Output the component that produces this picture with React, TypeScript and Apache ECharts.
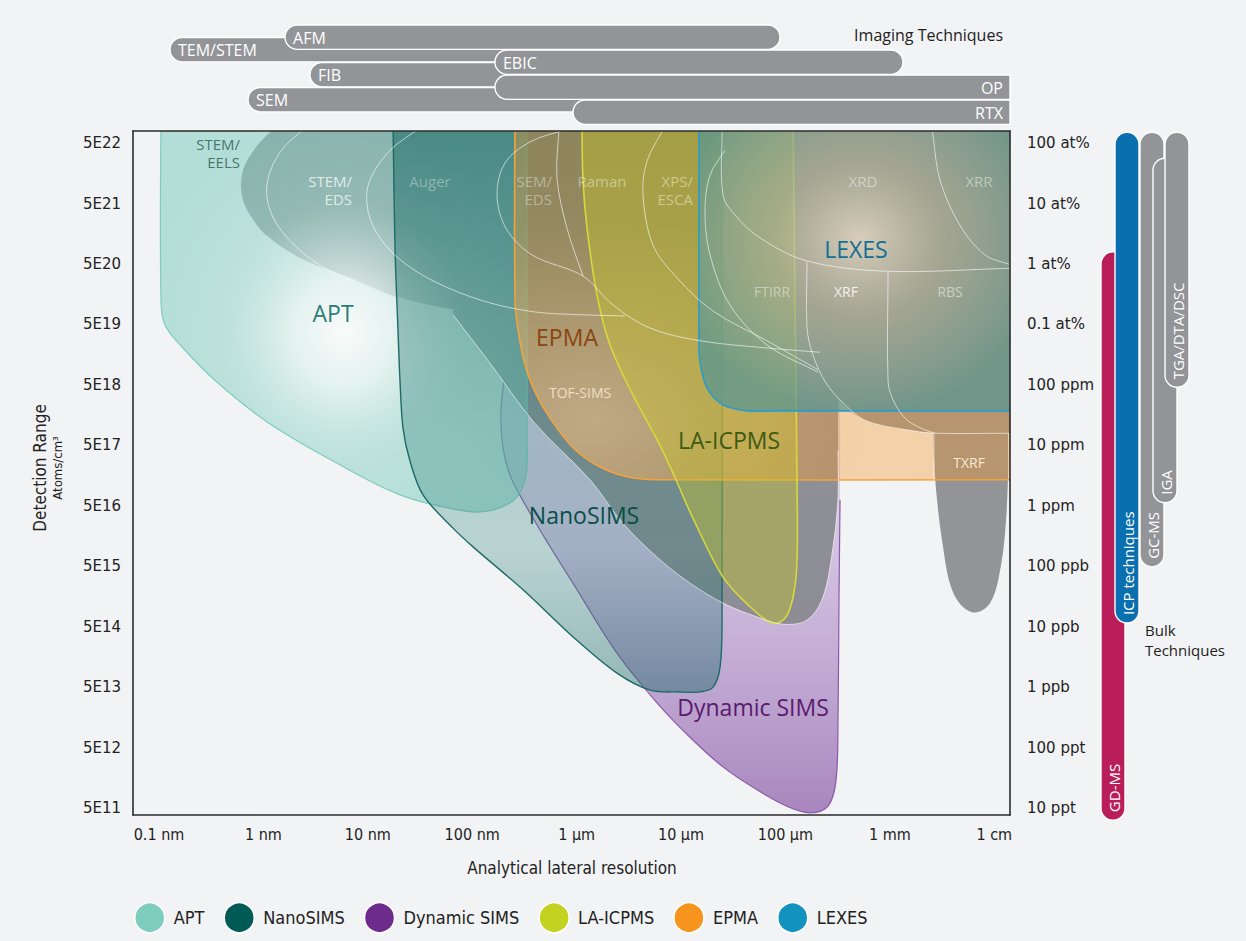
import React, { useEffect, useRef } from 'react';
import * as echarts from 'echarts';

// Axis units: x counts decades above 0.1 nm, y counts decades above 5E11 atoms/cm³.
const xTickValues = [0, 1, 2, 3, 4, 5, 6, 7, 8];
const xTickLabels = ['0.1 nm', '1 nm', '10 nm', '100 nm', '1 µm', '10 µm', '100 µm', '1 mm', '1 cm'];
const yTickValues = [0, 1, 2, 3, 4, 5, 6, 7, 8, 9, 10, 11];
const concentrationLabels = ['5E11', '5E12', '5E13', '5E14', '5E15', '5E16', '5E17', '5E18', '5E19', '5E20', '5E21', '5E22'];
const fractionLabels = ['10 ppt', '100 ppt', '1 ppb', '10 ppb', '100 ppb', '1 ppm', '10 ppm', '100 ppm', '0.1 at%', '1 at%', '10 at%', '100 at%'];

const X_MIN = -0.249;
const X_MAX = 8.151;
const Y_MIN = -0.116;
const Y_MAX = 11.2;

// Region outlines as [resolution, concentration] points; a third value of 1 marks a sharp corner.
const aptOutline = [
  [0.019, 11.38, 1], [0.019, 8.4], [0.057, 7.99], [0.23, 7.61], [0.546, 7.06], [1.025, 6.4], [1.667, 5.74],
  [2.308, 5.18], [2.941, 4.91], [3.199, 4.93], [3.42, 5.13], [3.515, 5.51], [3.525, 6.09], [3.525, 11.38, 1],
];
const nanoSimsOutline = [
  [2.241, 11.38, 1], [2.261, 9.23], [2.289, 7.91], [2.308, 7.08], [2.337, 6.29], [2.404, 5.74], [2.529, 5.18],
  [2.816, 4.63], [3.008, 4.32], [3.487, 3.61], [3.966, 2.83], [4.387, 2.23], [4.703, 1.95], [4.99, 1.92],
  [5.182, 1.92], [5.307, 2.0], [5.374, 2.33], [5.393, 3.11], [5.393, 11.38, 1],
];
const dynamicSimsOutline = [
  [6.523, 7.74, 1], [3.649, 7.74], [3.381, 7.49], [3.305, 7.11], [3.276, 6.58], [3.285, 6.09], [3.324, 5.72],
  [3.391, 5.39], [3.649, 4.6], [4.004, 3.61], [4.387, 2.56], [4.77, 1.74], [5.086, 1.17], [5.402, 0.68],
  [5.728, 0.3], [6.025, 0.02], [6.236, -0.08], [6.408, 0.03], [6.485, 0.46], [6.504, 1.57], [6.513, 3.44], [6.523, 5.1],
];
// Only the visible part of the Dynamic SIMS border is stroked.
const dynamicSimsEdge = dynamicSimsOutline.slice(3).map((p) => [p[0], p[1]]);
const epmaOutline = [
  [3.41, 11.38, 1], [3.41, 8.4], [3.439, 7.91], [3.506, 7.33], [3.602, 6.88], [3.745, 6.45], [3.966, 5.96],
  [4.224, 5.64], [4.54, 5.46], [4.99, 5.43], [8.199, 5.43, 1], [8.199, 11.38, 1],
];
const laIcpmsOutline = [
  [4.052, 11.38, 1], [4.061, 10.39], [4.1, 9.59], [4.195, 8.49], [4.32, 7.66], [4.54, 6.83], [4.799, 6.0],
  [4.952, 5.43], [5.086, 4.9], [5.402, 3.82], [5.661, 3.33], [5.872, 3.06], [5.996, 3.14], [6.073, 3.49],
  [6.111, 4.1], [6.111, 5.43], [6.092, 8.4], [6.073, 11.38, 1],
];
const lexesOutline = [
  [5.172, 11.38, 1], [5.172, 7.74], [5.182, 7.38], [5.249, 6.95], [5.402, 6.67], [5.632, 6.57], [5.9, 6.57],
  [8.199, 6.57, 1], [8.199, 11.38, 1],
];

// Other (grey) techniques: electron / optical cluster, TOF-SIMS, XRF/RBS block and TXRF.
const electronOutline = [
  [1.207, 11.38, 1], [0.987, 11.05], [0.824, 10.64], [0.785, 10.31], [0.814, 10.01], [0.891, 9.76], [1.025, 9.48],
  [1.351, 9.1], [1.83, 8.77], [2.308, 8.44], [2.941, 8.22], [3.582, 8.16], [4.224, 8.14], [4.99, 8.14, 1], [4.99, 11.38, 1],
];
const tofSimsOutline = [
  [2.816, 11.38, 1], [2.816, 8.16, 1], [3.17, 7.36], [3.582, 6.4], [4.128, 5.43], [4.444, 4.71], [4.77, 4.15],
  [5.086, 3.72], [5.402, 3.39], [5.728, 3.16], [5.977, 3.04], [6.207, 3.11], [6.36, 3.49], [6.456, 4.32],
  [6.504, 5.14], [6.504, 5.92], [6.504, 11.38, 1],
];
const xrfRbsOutline = [
  [6.331, 11.38, 1], [6.331, 7.28], [6.523, 6.73], [6.782, 6.4], [7.222, 6.24], [7.414, 6.2, 1], [8.199, 6.2, 1], [8.199, 11.38, 1],
];
const txrfOutline = [
  [7.414, 6.2, 1], [7.423, 5.76], [7.443, 5.26], [7.5, 4.43], [7.605, 3.57], [7.787, 3.24], [7.96, 3.39],
  [8.065, 4.02], [8.113, 4.76], [8.132, 5.51], [8.132, 6.2, 1],
];

// Boundaries between the grey sub-techniques.
const stemEdsEdge = [[1.398, 11.25], [1.159, 10.85], [1.034, 10.31], [1.082, 9.81], [1.274, 9.35], [1.542, 8.98], [1.849, 8.72]];
const augerEdge = [[2.5, 11.25], [2.213, 10.88], [2.021, 10.39], [1.992, 9.98], [2.079, 9.53], [2.289, 9.1], [2.625, 8.72], [3.103, 8.39], [3.582, 8.21], [4.033, 8.16], [4.464, 8.14]];
const semEdsEdge = [[3.889, 11.22], [3.554, 11.02], [3.314, 10.67], [3.238, 10.14], [3.324, 9.59], [3.573, 9.15], [4.061, 8.8], [4.349, 8.32], [4.703, 7.94], [5.182, 7.73], [5.824, 7.61], [6.331, 7.54]];
const ramanEdge = [[3.831, 11.25], [3.812, 10.42], [3.908, 9.59], [4.061, 8.8]];
const xpsEdge = [[4.837, 11.25], [4.674, 10.7], [4.636, 10.14], [4.732, 9.31], [4.962, 8.77], [5.307, 8.22], [5.824, 7.73], [6.312, 7.25]];
const ftirrEdge = [[5.421, 10.88], [5.278, 10.47], [5.23, 9.88], [5.278, 9.15], [5.469, 8.32], [5.824, 7.66], [6.312, 7.21]];
const xrdEdge = [[5.393, 11.25], [5.402, 10.14], [5.517, 9.81], [5.757, 9.43], [6.207, 9.05], [6.973, 8.88], [8.17, 8.93]];
const xrrEdge = [[7.404, 11.25], [7.481, 10.39], [7.672, 9.64], [7.912, 9.15], [8.17, 8.98]];
const xrfEdge = [[6.207, 9.03], [6.207, 7.94], [6.264, 7.49], [6.389, 7.03], [6.571, 6.67], [6.782, 6.4], [7.222, 6.24], [7.433, 6.2], [8.17, 6.2]];
const rbsEdge = [[6.983, 8.87], [6.983, 7.06], [7.031, 6.75], [7.146, 6.45], [7.289, 6.29], [7.433, 6.2]];
const txrfEdge = [[7.423, 6.2], [7.423, 5.43]];
const tofSimsEdge = tofSimsOutline.slice(1, 16).map((p) => [p[0], p[1]]);
const dividerLines = [stemEdsEdge, augerEdge, semEdsEdge, ramanEdge, xpsEdge, ftirrEdge, xrdEdge, xrrEdge, xrfEdge, rbsEdge, txrfEdge, tofSimsEdge];

// Imaging techniques: lateral-resolution ranges (same x units), stacked rows.
const imagingNames = ['TEM/STEM', 'AFM', 'FIB', 'SEM', 'EBIC', 'OP', 'RTX'];
const imagingFrom = [0.105, 1.207, 1.446, 0.853, 3.218, 3.218, 3.966];
const imagingTo = [5.0, 5.948, 4.5, 6.0, 7.126, X_MAX, X_MAX];
const imagingRow = [1, 0, 3, 5, 2, 4, 6];

// Bulk techniques: concentration ranges (same y units).
const bulkNames = ['GD-MS', 'ICP techniques', 'GC-MS', 'IGA', 'TGA/DTA/DSC'];
const bulkTop = [9.2, 11.18, 11.18, 10.75, 11.18];
const bulkBottom = [-0.2, 3.06, 3.99, 5.05, 6.96];
const bulkColors = ['#b91e5a', '#0a6fae', '#939498', '#939498', '#939498'];
const bulkLanes = [1, 15, 40, 53, 65];

const legendNames = ['APT', 'NanoSIMS', 'Dynamic SIMS', 'LA-ICPMS', 'EPMA', 'LEXES'];
const legendColors = ['#7fcdbf', '#005a55', '#6d2b8b', '#c3d120', '#f7941d', '#1293c0'];

const FONT_GEO = '"Open Sans", Lato, sans-serif';
const FONT_COND = '"DejaVu Sans Condensed", "Liberation Sans Narrow", "DejaVu Sans", sans-serif';
const FONT_TICK = '"DejaVu Sans", Verdana, sans-serif';

const regionLabels = [
  { text: 'STEM/\nEELS', x: 0.776, y: 10.84, align: 'right', color: '#4a746f', size: 15 },
  { text: 'STEM/\nEDS', x: 1.849, y: 10.22, align: 'right', color: 'rgba(240,246,244,0.85)', size: 15 },
  { text: 'Auger', x: 2.596, y: 10.37, align: 'center', color: 'rgba(255,255,255,0.35)', size: 15 },
  { text: 'SEM/\nEDS', x: 3.764, y: 10.22, align: 'right', color: 'rgba(255,255,255,0.38)', size: 15 },
  { text: 'Raman', x: 4.243, y: 10.37, align: 'center', color: 'rgba(255,255,255,0.42)', size: 15 },
  { text: 'XPS/\nESCA', x: 5.115, y: 10.22, align: 'right', color: 'rgba(255,255,225,0.45)', size: 15 },
  { text: 'XRD', x: 6.743, y: 10.37, align: 'center', color: 'rgba(255,255,255,0.45)', size: 15 },
  { text: 'XRR', x: 7.854, y: 10.37, align: 'center', color: 'rgba(255,255,255,0.45)', size: 15 },
  { text: 'FTIRR', x: 5.872, y: 8.54, align: 'center', color: 'rgba(255,255,255,0.45)', size: 14 },
  { text: 'XRF', x: 6.58, y: 8.54, align: 'center', color: 'rgba(255,255,255,0.85)', size: 14 },
  { text: 'RBS', x: 7.577, y: 8.54, align: 'center', color: 'rgba(255,255,255,0.5)', size: 14 },
  { text: 'TOF-SIMS', x: 4.033, y: 6.88, align: 'center', color: 'rgba(255,238,215,0.8)', size: 14 },
  { text: 'TXRF', x: 7.759, y: 5.72, align: 'center', color: 'rgba(255,240,215,0.95)', size: 14 },
  { text: 'APT', x: 1.667, y: 8.19, align: 'center', color: '#2b7d75', size: 23 },
  { text: 'EPMA', x: 3.908, y: 7.79, align: 'center', color: '#8a4510', size: 23 },
  { text: 'LA-ICPMS', x: 5.46, y: 6.09, align: 'center', color: '#3d5a12', size: 23 },
  { text: 'NanoSIMS', x: 4.071, y: 4.85, align: 'center', color: '#0a4e49', size: 23 },
  { text: 'Dynamic SIMS', x: 5.69, y: 1.67, align: 'center', color: '#5a1a6e', size: 23 },
  { text: 'LEXES', x: 6.676, y: 9.25, align: 'center', color: '#146e96', size: 23 },
];

// Smooth outline through the points; corner points keep a sharp vertex.
function smoothPath(pts: number[][], closed: boolean): string {
  const n = pts.length;
  const at = (i: number) => (closed ? pts[((i % n) + n) % n] : pts[Math.min(n - 1, Math.max(0, i))]);
  const dir = (a: number[], b: number[]) => {
    const dx = b[0] - a[0];
    const dy = b[1] - a[1];
    const l = Math.hypot(dx, dy) || 1;
    return [dx / l, dy / l];
  };
  const f = (v: number) => v.toFixed(2);
  let d = `M${f(pts[0][0])} ${f(pts[0][1])}`;
  const segs = closed ? n : n - 1;
  for (let i = 0; i < segs; i++) {
    const p0 = at(i - 1);
    const p1 = at(i);
    const p2 = at(i + 1);
    const p3 = at(i + 2);
    const len = Math.hypot(p2[0] - p1[0], p2[1] - p1[1]) / 3;
    const t1 = dir(p0, p2);
    const t2 = dir(p1, p3);
    const c1 = p1[2] ? [p1[0], p1[1]] : [p1[0] + t1[0] * len, p1[1] + t1[1] * len];
    const c2 = p2[2] ? [p2[0], p2[1]] : [p2[0] - t2[0] * len, p2[1] - t2[1] * len];
    d += ` C${f(c1[0])} ${f(c1[1])} ${f(c2[0])} ${f(c2[1])} ${f(p2[0])} ${f(p2[1])}`;
  }
  return closed ? d + ' Z' : d;
}

function toPixels(api: any, pts: number[][]) {
  return pts.map((p) => {
    const c = api.coord([p[0], p[1]]);
    return [c[0], c[1], p[2] || 0];
  });
}

function regionSeries(name: string, outlines: number[][][], fill: any, stroke: string, lineWidth: number, z: number, color: string) {
  return {
    type: 'custom',
    name,
    coordinateSystem: 'cartesian2d',
    xAxisIndex: 0,
    yAxisIndex: 0,
    clip: true,
    silent: true,
    z,
    itemStyle: { color },
    data: [[0, 0]],
    renderItem: (_params: any, api: any) => ({
      type: 'path',
      shape: { pathData: outlines.map((o) => smoothPath(toPixels(api, o), true)).join(' ') },
      style: { fill, stroke, lineWidth },
    }),
  };
}

function edgeSeries(name: string, lines: number[][][], stroke: string, lineWidth: number, z: number) {
  return {
    type: 'custom',
    name,
    coordinateSystem: 'cartesian2d',
    xAxisIndex: 0,
    yAxisIndex: 0,
    clip: true,
    silent: true,
    z,
    data: lines.map((_l, i) => [i, 0]),
    renderItem: (params: any, api: any) => ({
      type: 'path',
      shape: { pathData: smoothPath(toPixels(api, lines[params.dataIndex]), false) },
      style: { fill: 'none', stroke, lineWidth },
    }),
  };
}

function buildOption() {
  const frameLine = { show: true, onZero: false, lineStyle: { color: '#2b2b2b', width: 1.6 } };

  const series: any[] = [
    regionSeries('Dynamic SIMS', [dynamicSimsOutline], {
      type: 'linear', x: 0, y: 0, x2: 0, y2: 1,
      colorStops: [
        { offset: 0, color: 'rgba(195,180,220,0.35)' },
        { offset: 0.4, color: 'rgba(170,130,200,0.4)' },
        { offset: 1, color: 'rgba(115,55,150,0.58)' },
      ],
    }, 'none', 0, 2, '#6d2b8b'),
    edgeSeries('Dynamic SIMS border', [dynamicSimsEdge], '#8c5aa8', 1.2, 2.5),
    regionSeries('Other techniques', [electronOutline, tofSimsOutline, xrfRbsOutline, txrfOutline],
      'rgba(132,134,139,0.88)', 'none', 0, 3, '#939498'),
    regionSeries('APT', [aptOutline], {
      type: 'radial', x: 0.5, y: 0.54, r: 0.55,
      colorStops: [
        { offset: 0, color: 'rgba(250,252,251,0.95)' },
        { offset: 0.25, color: 'rgba(225,242,238,0.8)' },
        { offset: 0.6, color: 'rgba(150,212,200,0.58)' },
        { offset: 1, color: 'rgba(127,205,191,0.55)' },
      ],
    }, '#7fcdbf', 1.2, 4, '#7fcdbf'),
    regionSeries('NanoSIMS', [nanoSimsOutline], {
      type: 'linear', x: 0, y: 0, x2: 0, y2: 1,
      colorStops: [
        { offset: 0, color: 'rgba(10,95,90,0.5)' },
        { offset: 0.55, color: 'rgba(40,125,120,0.32)' },
        { offset: 0.75, color: 'rgba(40,125,120,0.28)' },
        { offset: 1, color: 'rgba(15,100,95,0.42)' },
      ],
    }, '#1d6b67', 1.4, 5, '#005a55'),
    regionSeries('EPMA', [epmaOutline], {
      type: 'radial', x: 0.15, y: 0.83, r: 0.55,
      colorStops: [
        { offset: 0, color: 'rgba(242,190,130,0.62)' },
        { offset: 1, color: 'rgba(245,150,40,0.37)' },
      ],
    }, '#f4a23a', 1.6, 6, '#f7941d'),
    regionSeries('LA-ICPMS', [laIcpmsOutline], 'rgba(200,198,38,0.4)', '#d5d93a', 1.6, 7, '#c3d120'),
    regionSeries('LEXES', [lexesOutline], {
      type: 'radial', x: 0.51, y: 0.41, r: 0.6,
      colorStops: [
        { offset: 0, color: 'rgba(225,220,205,0.8)' },
        { offset: 0.45, color: 'rgba(150,175,168,0.6)' },
        { offset: 1, color: 'rgba(85,150,148,0.72)' },
      ],
    }, '#2a9ccc', 1.6, 8, '#1293c0'),
    edgeSeries('dividers', dividerLines, 'rgba(255,255,255,0.6)', 1, 9),
    {
      type: 'custom',
      name: 'region labels',
      coordinateSystem: 'cartesian2d',
      xAxisIndex: 0,
      yAxisIndex: 0,
      silent: true,
      z: 10,
      data: regionLabels.map((l) => [l.x, l.y]),
      renderItem: (params: any, api: any) => {
        const l = regionLabels[params.dataIndex];
        const c = api.coord([l.x, l.y]);
        return {
          type: 'text',
          x: c[0],
          y: c[1],
          style: {
            text: l.text,
            fill: l.color,
            font: `500 ${l.size}px ${FONT_GEO}`,
            align: l.align,
            verticalAlign: 'middle',
            lineHeight: 18,
          },
        };
      },
    },
    {
      type: 'custom',
      name: 'imaging',
      coordinateSystem: 'cartesian2d',
      xAxisIndex: 2,
      yAxisIndex: 2,
      silent: true,
      z: 5,
      data: imagingNames.map((_n, i) => [imagingFrom[i], imagingRow[i]]),
      renderItem: (params: any, api: any) => {
        const i = params.dataIndex;
        const p0 = api.coord([imagingFrom[i], imagingRow[i]]);
        const p1 = api.coord([imagingTo[i], imagingRow[i] + 1.95]);
        const h = p1[1] - p0[1];
        const r = h / 2;
        const square = imagingTo[i] >= X_MAX - 1e-6;
        return {
          type: 'group',
          children: [
            {
              type: 'rect',
              shape: { x: p0[0], y: p0[1], width: p1[0] - p0[0], height: h, r: square ? [r, 0, 0, r] : r },
              style: { fill: '#939498', stroke: '#ffffff', lineWidth: 1.4 },
            },
            {
              type: 'text',
              x: square ? p1[0] - 7 : p0[0] + 8,
              y: p0[1] + h / 2 + 0.5,
              style: {
                text: imagingNames[i],
                fill: '#ffffff',
                font: `500 16px ${FONT_GEO}`,
                align: square ? 'right' : 'left',
                verticalAlign: 'middle',
              },
            },
          ],
        };
      },
    },
    {
      type: 'custom',
      name: 'bulk',
      coordinateSystem: 'cartesian2d',
      xAxisIndex: 3,
      yAxisIndex: 3,
      silent: true,
      z: 5,
      data: bulkNames.map((_n, i) => [bulkLanes[i], bulkTop[i]]),
      renderItem: (params: any, api: any) => {
        const i = params.dataIndex;
        const top = api.coord([bulkLanes[i], bulkTop[i]]);
        const bot = api.coord([bulkLanes[i] + 24, bulkBottom[i]]);
        const w = bot[0] - top[0];
        return {
          type: 'group',
          children: [
            {
              type: 'rect',
              shape: { x: top[0], y: top[1], width: w, height: bot[1] - top[1], r: w / 2 },
              style: { fill: bulkColors[i], stroke: '#ffffff', lineWidth: 1.4 },
            },
            {
              type: 'text',
              x: top[0] + w / 2 + 0.5,
              y: bot[1] - 8,
              rotation: Math.PI / 2,
              style: {
                text: bulkNames[i],
                fill: '#ffffff',
                font: `500 15px ${FONT_GEO}`,
                align: 'left',
                verticalAlign: 'middle',
              },
            },
          ],
        };
      },
    },
  ];

  return {
    animation: false,
    backgroundColor: '#f2f3f5',
    grid: [
      { left: 133, top: 131, width: 877, height: 684 },
      { left: 133, top: 25, width: 877, height: 100 },
      { left: 1100, top: 131, width: 90, height: 699 },
    ],
    xAxis: [
      {
        gridIndex: 0, type: 'value', min: X_MIN, max: X_MAX, position: 'bottom', z: 12,
        axisLine: frameLine, axisTick: { show: false }, splitLine: { show: false },
        axisLabel: {
          customValues: xTickValues,
          formatter: (v: number) => xTickLabels[Math.round(v)],
          margin: 11, color: '#222', fontSize: 16, fontFamily: FONT_COND,
        },
      },
      {
        gridIndex: 0, type: 'value', min: X_MIN, max: X_MAX, position: 'top', z: 12,
        axisLine: frameLine, axisTick: { show: false }, splitLine: { show: false }, axisLabel: { show: false },
      },
      { gridIndex: 1, type: 'value', min: X_MIN, max: X_MAX, show: false },
      { gridIndex: 2, type: 'value', min: 0, max: 90, show: false },
    ],
    yAxis: [
      {
        gridIndex: 0, type: 'value', min: Y_MIN, max: Y_MAX, position: 'left', z: 12,
        axisLine: frameLine, axisTick: { show: false }, splitLine: { show: false },
        axisLabel: {
          customValues: yTickValues,
          formatter: (v: number) => concentrationLabels[Math.round(v)],
          margin: 12, color: '#222', fontSize: 15, fontFamily: FONT_TICK,
        },
      },
      {
        gridIndex: 0, type: 'value', min: Y_MIN, max: Y_MAX, position: 'right', z: 12,
        axisLine: frameLine, axisTick: { show: false }, splitLine: { show: false },
        axisLabel: {
          customValues: yTickValues,
          formatter: (v: number) => fractionLabels[Math.round(v)],
          margin: 17, color: '#222', fontSize: 15, fontFamily: FONT_TICK,
        },
      },
      { gridIndex: 1, type: 'value', min: 0, max: 8, inverse: true, show: false },
      { gridIndex: 2, type: 'value', min: -0.363, max: Y_MAX, show: false },
    ],
    legend: {
      left: 134,
      top: 902,
      padding: 0,
      icon: 'circle',
      itemWidth: 30,
      itemHeight: 30,
      itemGap: 19,
      selectedMode: false,
      textStyle: { fontSize: 18, color: '#222', fontFamily: FONT_COND, padding: [0, 0, 0, 4] },
      data: legendNames.map((name, i) => ({
        name,
        itemStyle: { color: legendColors[i], borderColor: '#ffffff', borderWidth: 1.5 },
      })),
    },
    graphic: [
      {
        type: 'text', x: 1003, y: 35,
        style: { text: 'Imaging Techniques', fill: '#222', font: `500 16px ${FONT_GEO}`, align: 'right', verticalAlign: 'middle' },
      },
      {
        type: 'text', x: 1145, y: 640,
        style: { text: 'Bulk\nTechniques', fill: '#222', font: `500 15px ${FONT_GEO}`, align: 'left', verticalAlign: 'middle', lineHeight: 20 },
      },
      {
        type: 'text', x: 572, y: 868,
        style: { text: 'Analytical lateral resolution', fill: '#222', font: `17px ${FONT_COND}`, align: 'center', verticalAlign: 'middle' },
      },
      {
        type: 'text', x: 40, y: 468, rotation: Math.PI / 2,
        style: { text: 'Detection Range', fill: '#222', font: `17px ${FONT_COND}`, align: 'center', verticalAlign: 'middle' },
      },
      {
        type: 'text', x: 57, y: 468, rotation: Math.PI / 2,
        style: { text: 'Atoms/cm³', fill: '#222', font: `13px ${FONT_COND}`, align: 'center', verticalAlign: 'middle' },
      },
    ],
    series,
  };
}

export default function App() {
  const ref = useRef<HTMLDivElement>(null);
  useEffect(() => {
    if (!ref.current) return;
    const chart = echarts.init(ref.current, undefined, { renderer: 'svg' });
    chart.setOption(buildOption() as any);
    return () => chart.dispose();
  }, []);
  return (
    <div
      ref={ref}
      style={{ position: 'absolute', left: 0, top: 0, width: 1246, height: 941, background: '#f2f3f5' }}
    />
  );
}
